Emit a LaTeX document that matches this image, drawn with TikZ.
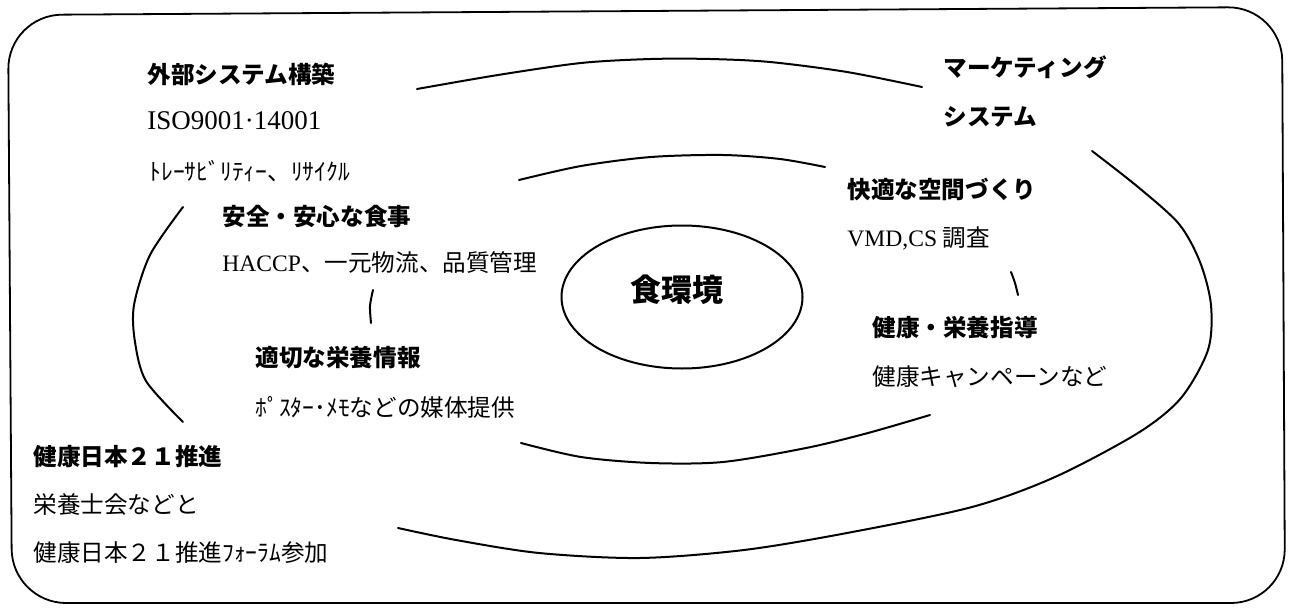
\documentclass[tikz,border=0pt]{standalone}
\usepackage{fontspec}
\newfontfamily\jp{Noto Sans CJK JP}
\newfontfamily\lat{Liberation Serif}
\usetikzlibrary{shapes.geometric}
\begin{document}
\begin{tikzpicture}[x=0.5pt,y=-0.5pt,
  head/.style={anchor=west, inner sep=0pt, font=\jp\bfseries\fontsize{11.8pt}{14pt}\selectfont},
  body/.style={anchor=west, inner sep=0pt, font=\jp\fontsize{11.8pt}{14pt}\selectfont},
  ring/.style={line width=1pt, line cap=round, line join=round}]
\useasboundingbox (0,0) rectangle (1290,610);
% frame
\draw[line width=0.9pt, rounded corners=27pt] (8,15) -- (1282,7) -- (1285,603) -- (12,603) -- cycle;
% central ellipse
\node[draw, ellipse, line width=1pt, minimum width=120.5pt, minimum height=71.5pt, inner sep=0pt] (coreRing) at (682,297) {};
\node[inner sep=0pt, font=\jp\bfseries\fontsize{15.5pt}{18pt}\selectfont] (core) at (677,290) {食環境};
% outer ring pieces
\draw[ring] plot[smooth] coordinates {(417,89) (498,75) (581,63) (651,59) (710,59) (770,62) (847,72) (922,87)};
\draw[ring] plot[smooth] coordinates {(183,207) (150,255) (134,305) (135,342) (146,381) (183,422)};
\draw[ring] plot[smooth] coordinates {(1092,151) (1138,187) (1179,224) (1200,262) (1211,305) (1208,350) (1181,398) (1138,433) (1055,477) (972,507) (847,533) (744,550) (640,558) (539,553) (456,540) (398,528)};
% middle ring pieces
\draw[ring] plot[smooth] coordinates {(519,180) (581,166) (651,157) (723,155) (780,159) (825,167)};
\draw[ring] plot[smooth] coordinates {(373,290) (370,306) (371,323)};
\draw[ring] plot[smooth] coordinates {(1011,272) (1015,283) (1018,295)};
\draw[ring] plot[smooth] coordinates {(521,443) (581,457) (651,463) (723,462) (806,448) (868,433) (930,415)};
% labels
\node[head] (ext) at (147,74) {外部システム構築};
\node[body] (iso) at (147,121) {\lat\fontsize{13.5pt}{16pt}\selectfont ISO9001·14001};
\node[body] (trace) at (149,171) {ﾄﾚｰｻﾋﾞﾘﾃｨｰ、ﾘｻｲｸﾙ};
\node[head] (safe) at (222,217) {安全・安心な食事};
\node[body] (haccp) at (222,263) {{\lat HACCP}、一元物流、品質管理};
\node[head] (info) at (255,358) {適切な栄養情報};
\node[body] (poster) at (255,407) {ﾎﾟｽﾀｰ･ﾒﾓなどの媒体提供};
\node[head] (hj) at (33,457) {健康日本２１推進};
\node[body] (diet) at (33,505) {栄養士会などと};
\node[body] (forum) at (33,553) {健康日本２１推進ﾌｫｰﾗﾑ参加};
\node[head] (mkt) at (943,67) {マーケティング};
\node[head] (sys) at (943,117) {システム};
\node[head] (space) at (847,190) {快適な空間づくり};
\node[body] (vmd) at (847,238) {{\lat VMD,CS} 調査};
\node[head] (guide) at (872,328) {健康・栄養指導};
\node[body] (camp) at (872,377) {健康キャンペーンなど};
\end{tikzpicture}
\end{document}
